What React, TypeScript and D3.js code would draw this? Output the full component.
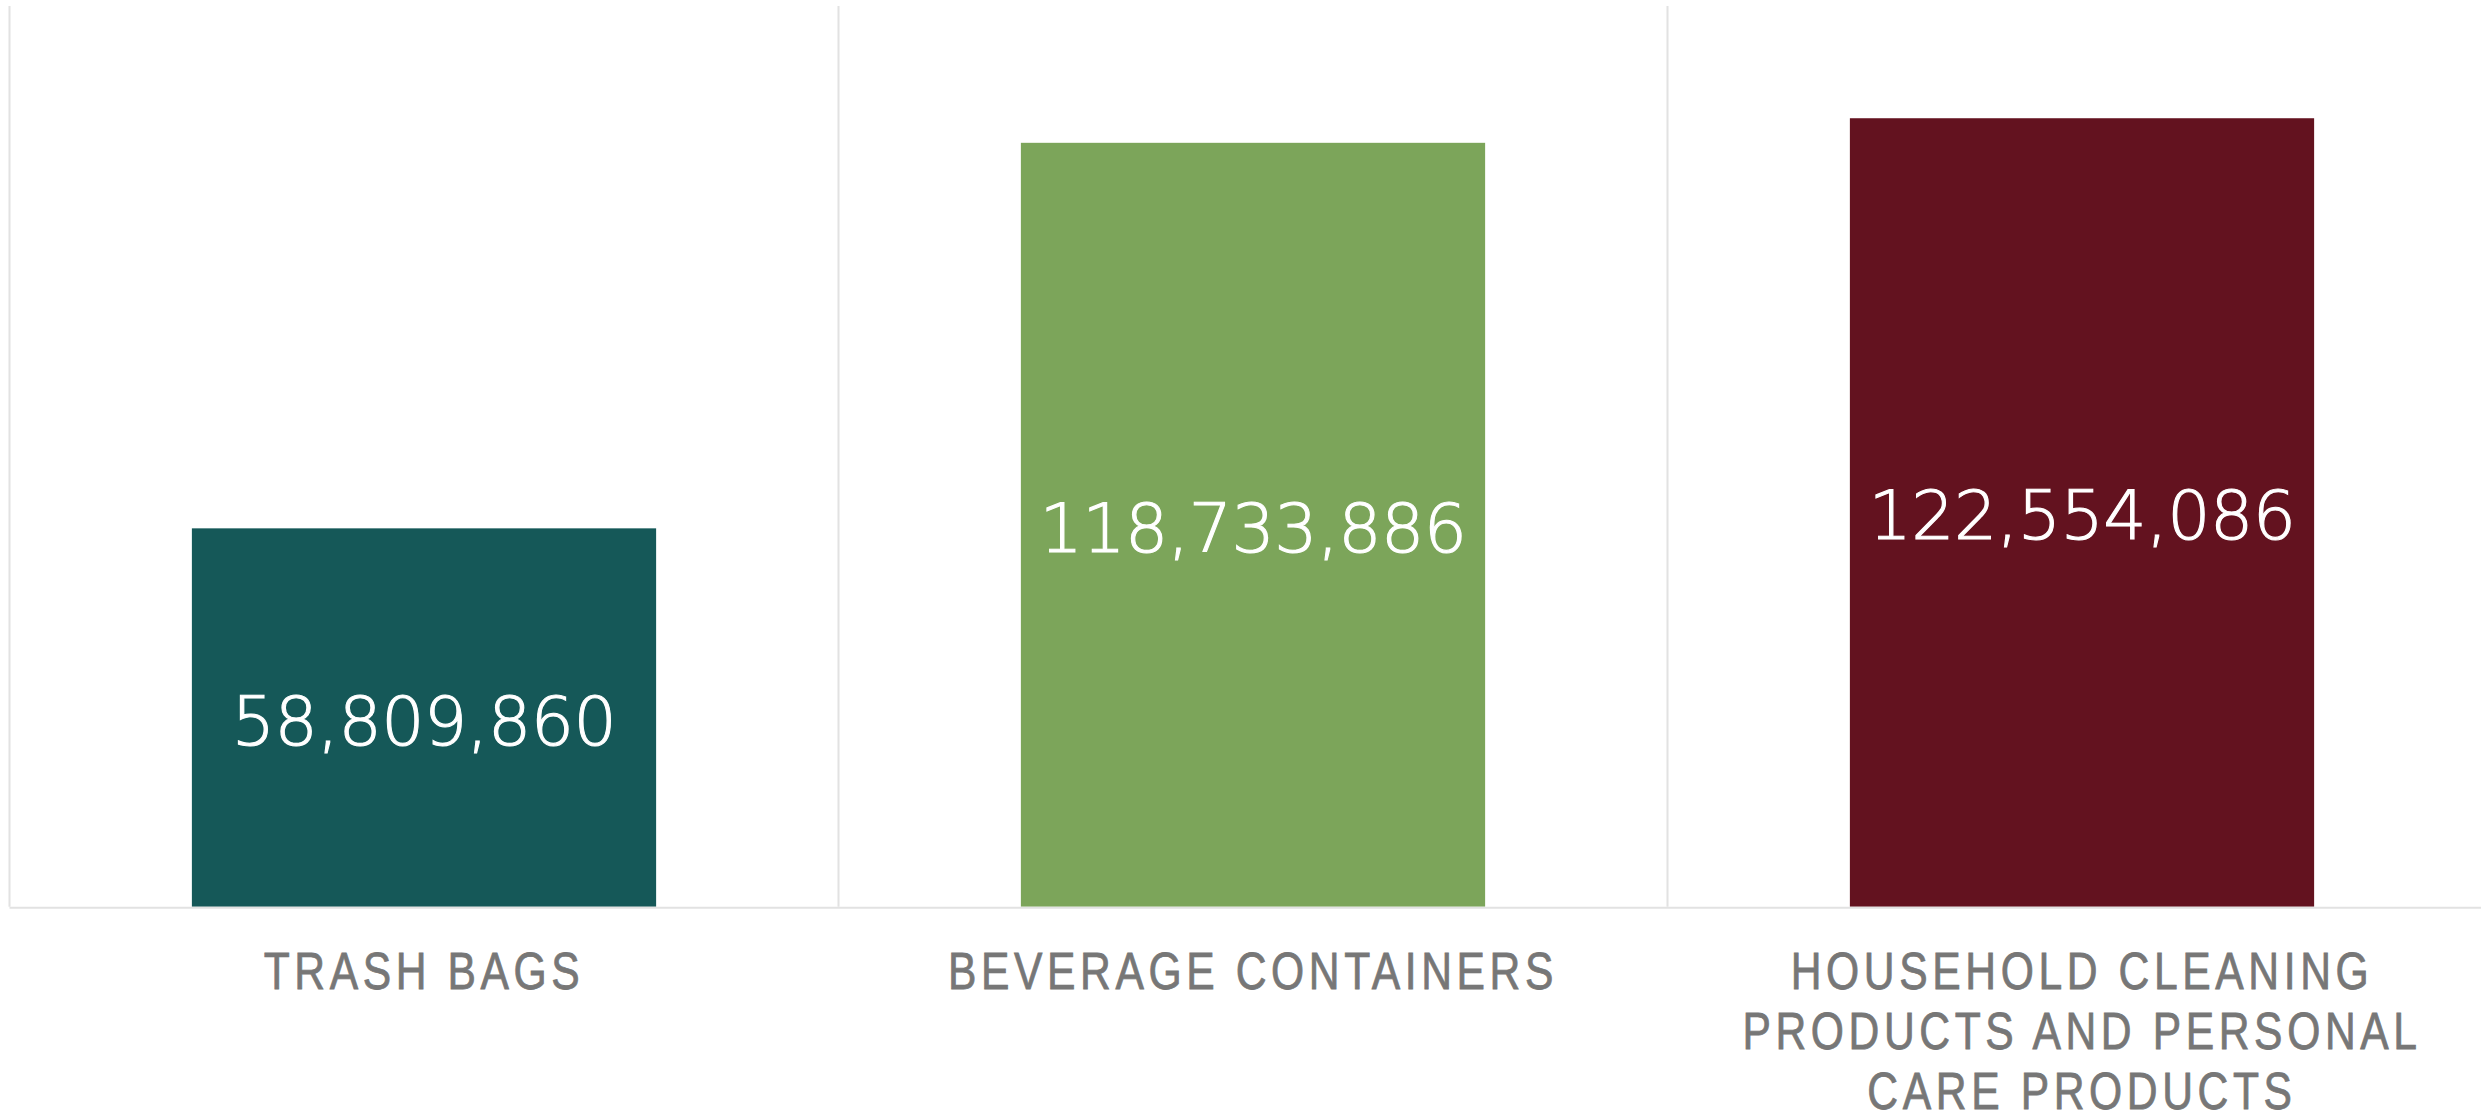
import React from "react";
import * as d3 from "d3";

const categories = ["TRASH BAGS", "BEVERAGE CONTAINERS", "HOUSEHOLD CLEANING PRODUCTS AND PERSONAL CARE PRODUCTS"];
const categoryLines = [
  ["TRASH BAGS"],
  ["BEVERAGE CONTAINERS"],
  ["HOUSEHOLD CLEANING", "PRODUCTS AND PERSONAL", "CARE PRODUCTS"],
];
const values = [58809860, 118733886, 122554086];
const colors = ["#155858", "#7ca55a", "#63121f"];
const yMax = 140000000;

const W = 2481;
const H = 1113;

export default function App() {
  const left = 9.5;
  const bandW = 829;
  const baseY = 906.7;
  const topY = 6;
  const x = d3.scaleBand<string>().domain(categories).range([left, left + bandW * categories.length]).padding(0);
  const y = d3.scaleLinear().domain([0, yMax]).range([baseY, topY]);
  const barW = x.bandwidth() * 0.56;
  const fmt = d3.format(",");
  const gridXs = categories.map((c) => x(c) as number);

  return (
    <svg width={W} height={H} style={{ position: "absolute", left: 0, top: 0, display: "block", background: "#fff" }}>
      {gridXs.map((gx, i) => (
        <line key={"g" + i} x1={gx} x2={gx} y1={topY} y2={baseY} stroke="#e2e2e2" strokeWidth={2} />
      ))}
      {categories.map((c, i) => {
        const cx = (x(c) as number) + x.bandwidth() / 2;
        const yt = y(values[i]);
        return (
          <g key={c}>
            <rect x={cx - barW / 2} y={yt} width={barW} height={baseY - yt} fill={colors[i]} />
            <text
              x={cx}
              y={(yt + baseY) / 2 + 27}
              textAnchor="middle"
              fill="#ffffff"
              stroke="#ffffff"
              strokeWidth={1.1}
              fontFamily="'DejaVu Sans', sans-serif"
              fontWeight={200}
              fontSize={68}
              letterSpacing={-0.5}
            >
              {fmt(values[i])}
            </text>
            {categoryLines[i].map((ln, j) => (
              <text
                key={j}
                transform={`translate(${cx},${989 + j * 60}) scale(0.82,1)`}
                textAnchor="middle"
                fill="#777777"
                stroke="#777777"
                strokeWidth={0.8}
                fontFamily="'Liberation Sans', Arial, sans-serif"
                fontSize={52}
                letterSpacing={5.6}
              >
                {ln}
              </text>
            ))}
          </g>
        );
      })}
      <line x1={left} x2={W} y1={baseY + 1} y2={baseY + 1} stroke="#e2e2e2" strokeWidth={2} />
    </svg>
  );
}
